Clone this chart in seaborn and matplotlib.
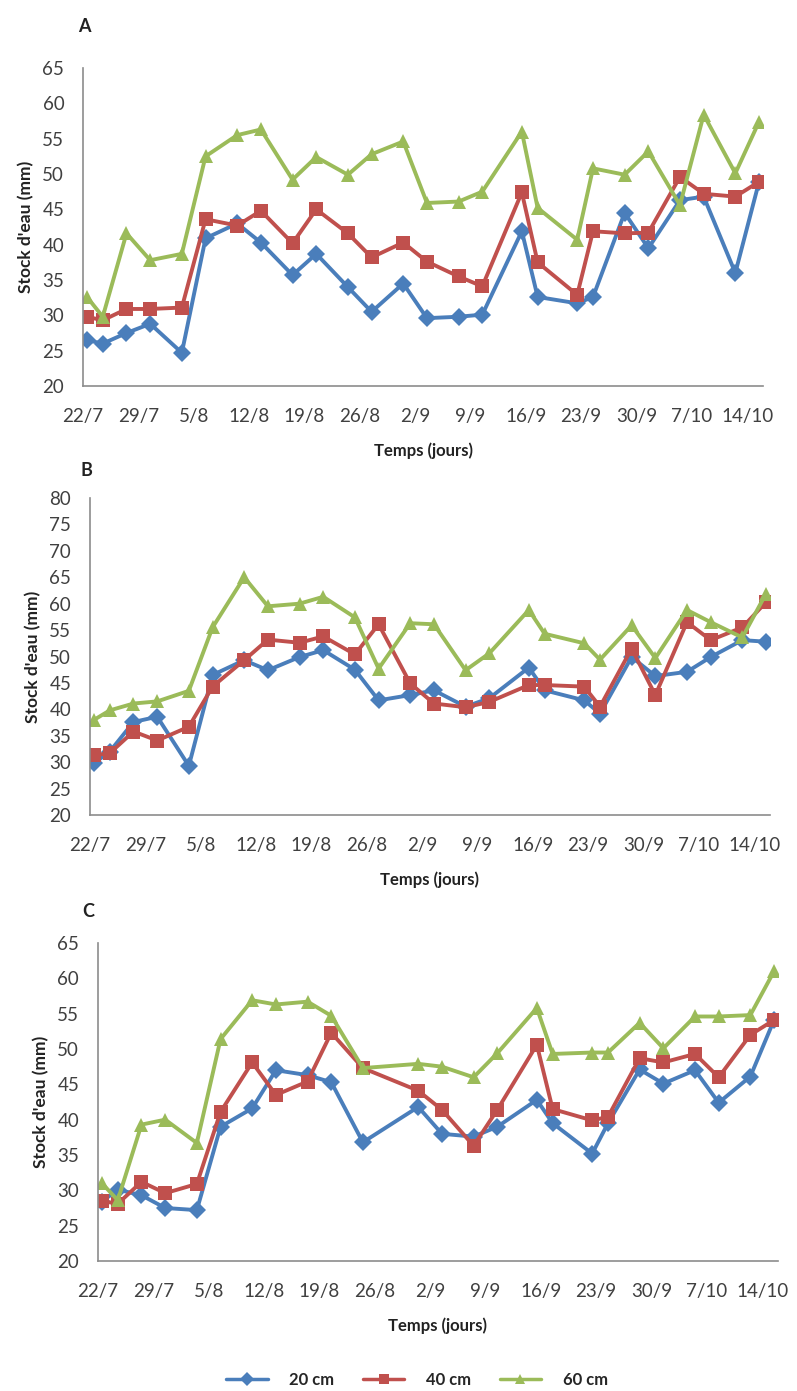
import pandas as pd
import seaborn as sns
import matplotlib.pyplot as plt
import matplotlib.dates as mdates
from matplotlib.ticker import FuncFormatter, MultipleLocator

# ==============
# ==== Data ====
# ==============

YEAR = 2013
depths = ["20 cm", "40 cm", "60 cm"]

dates_ab = ["22/7", "24/7", "27/7", "30/7", "3/8", "6/8", "10/8", "13/8", "17/8",
            "20/8", "24/8", "27/8", "31/8", "3/9", "7/9", "10/9", "15/9", "17/9",
            "22/9", "24/9", "28/9", "1/10", "5/10", "8/10", "12/10", "15/10"]
dates_c = [d for d in dates_ab if d != "27/8"]

a_20 = [26.5, 26.0, 27.5, 28.8, 24.7, 40.9, 43.0, 40.3, 35.7, 38.7, 34.0, 30.5, 34.5,
        29.6, 29.8, 30.1, 41.9, 32.6, 31.7, 32.6, 44.5, 39.5, 46.3, 46.8, 36.0, 48.9]
a_40 = [29.8, 29.3, 30.9, 30.9, 31.1, 43.6, 42.7, 44.8, 40.2, 45.0, 41.6, 38.2, 40.3,
        37.6, 35.5, 34.1, 47.4, 37.5, 32.9, 41.9, 41.6, 41.7, 49.6, 47.2, 46.8, 48.9]
a_60 = [32.6, 29.8, 41.6, 37.8, 38.7, 52.5, 55.5, 56.3, 49.2, 52.4, 49.9, 52.8, 54.6,
        45.9, 46.1, 47.5, 56.0, 45.2, 40.7, 50.8, 49.9, 53.2, 45.6, 58.4, 50.1, 57.4]

b_20 = [29.8, 32.0, 37.6, 38.6, 29.3, 46.5, 49.3, 47.4, 49.9, 51.2, 47.5, 41.7, 42.7,
        43.6, 40.5, 42.1, 47.9, 43.6, 41.7, 39.2, 49.9, 46.3, 47.1, 49.9, 53.1, 52.8]
b_40 = [31.3, 31.7, 35.8, 34.1, 36.7, 44.3, 49.3, 53.2, 52.6, 53.8, 50.4, 56.1, 44.9,
        41.1, 40.4, 41.4, 44.6, 44.6, 44.3, 40.5, 51.5, 42.7, 56.5, 53.1, 55.5, 60.3]
b_60 = [38.0, 39.8, 41.1, 41.5, 43.5, 55.5, 65.0, 59.5, 60.0, 61.3, 57.4, 47.7, 56.3,
        56.1, 47.4, 50.6, 58.8, 54.3, 52.5, 49.4, 55.9, 49.7, 58.8, 56.5, 53.6, 61.9]

c_20 = [28.4, 30.1, 29.3, 27.5, 27.2, 39.0, 41.6, 47.0, 46.3, 45.3, 36.8, 41.8,
        38.0, 37.6, 39.0, 42.8, 39.5, 35.2, 39.5, 47.1, 45.1, 47.0, 42.4, 46.1, 54.1]
c_40 = [28.5, 28.1, 31.2, 29.6, 30.9, 41.1, 48.1, 43.5, 45.4, 52.3, 47.3, 44.1,
        41.4, 36.3, 41.4, 50.6, 41.5, 39.9, 40.4, 48.7, 48.1, 49.3, 46.0, 52.0, 54.1]
c_60 = [31.0, 28.6, 39.3, 40.0, 36.7, 51.4, 56.9, 56.3, 56.7, 54.7, 47.3, 47.9,
        47.5, 46.0, 49.4, 55.8, 49.3, 49.5, 49.5, 53.7, 50.1, 54.6, 54.6, 54.8, 61.0]

week_ticks = ["22/7", "29/7", "5/8", "12/8", "19/8", "26/8", "2/9", "9/9",
              "16/9", "23/9", "30/9", "7/10", "14/10"]

palette = {"20 cm": "#4A7EBB", "40 cm": "#C0504D", "60 cm": "#9BBB59"}
markers = {"20 cm": "D", "40 cm": "s", "60 cm": "^"}


# ===================
# ==== Functions ====
# ===================

def to_date(s):
    d, m = s.split("/")
    return pd.Timestamp(YEAR, int(m), int(d))


def make_frame(dates, s20, s40, s60):
    rows = []
    for name, vals in zip(depths, [s20, s40, s60]):
        for d, v in zip(dates, vals):
            # Excel date axis: points sit in the middle of the day
            rows.append({"date": to_date(d) + pd.Timedelta(hours=12), "depth": name, "stock": v})
    return pd.DataFrame(rows)


def draw_panel(fig, rect, df, ymax, show_legend=False):
    ax = fig.add_axes(rect)
    sns.lineplot(data=df, x="date", y="stock", hue="depth", style="depth",
                 palette=palette, markers=markers, dashes=False,
                 linewidth=2.8, markersize=9.5, markeredgewidth=0,
                 legend=show_legend, ax=ax)
    ax.set_xlim(to_date("22/7"), to_date("16/10"))
    ax.set_xticks([to_date(t) for t in week_ticks])
    ax.xaxis.set_major_formatter(FuncFormatter(
        lambda v, p: "{}/{}".format(mdates.num2date(v).day, mdates.num2date(v).month)))
    ax.set_ylim(20, ymax)
    ax.yaxis.set_major_locator(MultipleLocator(5))
    ax.set_xlabel("Temps (jours)", fontweight="bold", fontsize=12, labelpad=13,
                  color="#222222")
    ax.set_ylabel("Stock d'eau (mm)", fontweight="bold", fontsize=12.5, labelpad=6,
                  color="#222222")
    ax.tick_params(axis="both", labelsize=13.5, labelcolor="#404040", length=5.5,
                   width=1, direction="out", color="#8c8c8c", pad=8)
    ax.tick_params(axis="x", pad=10)
    for side in ["left", "bottom"]:
        ax.spines[side].set_color("#8c8c8c")
        ax.spines[side].set_linewidth(1.2)
    for side in ["top", "right"]:
        ax.spines[side].set_visible(False)
    return ax


# =============
# ==== RUN ====
# =============

if __name__ == '__main__':

    sns.set_style("white")
    plt.rcParams['font.family'] = ['Lato', 'DejaVu Sans']

    W, H = 797, 1391
    fig = plt.figure(figsize=(W / 100, H / 100), dpi=100)

    panels = [
        ((83 / W, 1 - 386 / H, 680 / W, 318 / H), make_frame(dates_ab, a_20, a_40, a_60), 65, "A", (78, 32)),
        ((90 / W, 1 - 815 / H, 680 / W, 317 / H), make_frame(dates_ab, b_20, b_40, b_60), 80, "B", (80, 476)),
        ((98 / W, 1 - 1261 / H, 680 / W, 318 / H), make_frame(dates_c, c_20, c_40, c_60), 65, "C", (82, 917)),
    ]
    axes = []
    for i, (rect, df, ymax, letter, pos) in enumerate(panels):
        axes.append(draw_panel(fig, rect, df, ymax, show_legend=(i == 2)))
        fig.text(pos[0] / W, 1 - pos[1] / H, letter, fontweight="bold", fontsize=13,
                 color="#222222", va="baseline")

    handles, labels = axes[2].get_legend_handles_labels()
    axes[2].get_legend().remove()
    for h in handles:
        h.set_markersize(7)
        h.set_linewidth(2.5)
    fig.legend(handles, labels, loc="center", bbox_to_anchor=(417 / W, 1 - 1380 / H),
               ncol=3, frameon=False, prop={"weight": "bold", "size": 12},
               handlelength=2.5, columnspacing=1.7, handletextpad=1.3)

    fig.savefig("out.png", dpi=100, facecolor="white")
